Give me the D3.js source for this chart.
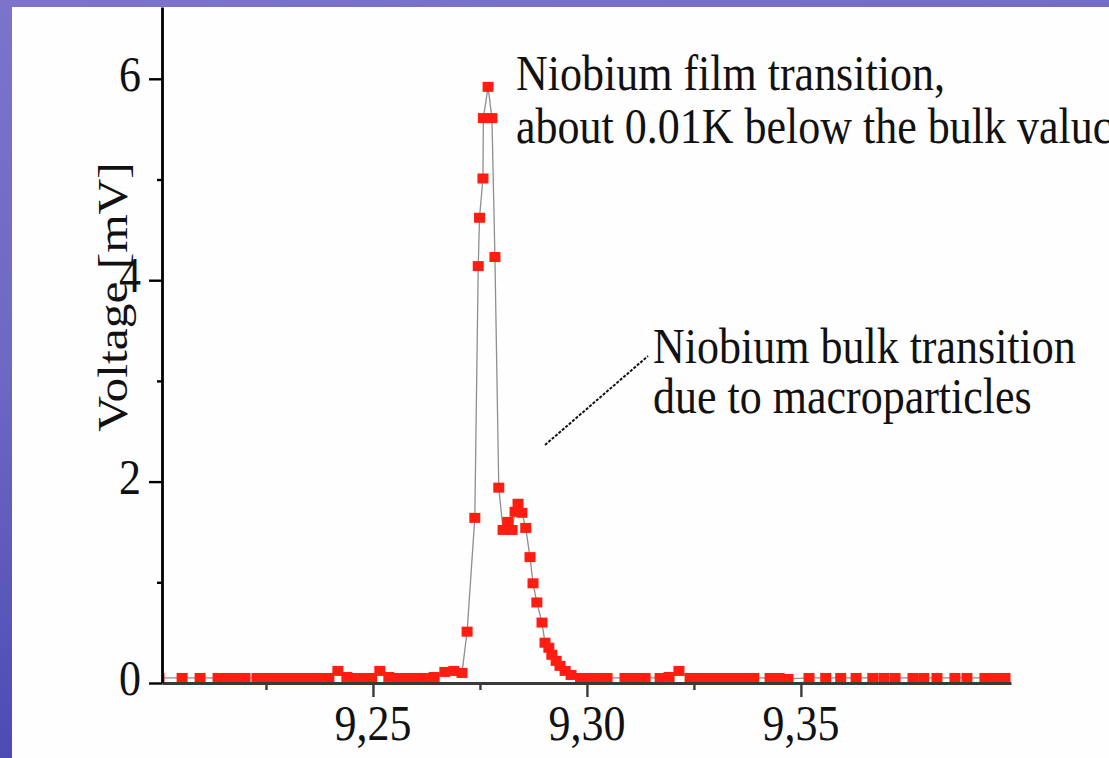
<!DOCTYPE html>
<html lang="en">
<head>
<meta charset="UTF-8">
<title>Niobium film transition</title>
<script src="https://d3js.org/d3.v7.min.js"></script>
<style>
    body { margin: 0; overflow: hidden; }
    svg { display: block; }
    .lbl { font-family: "Liberation Serif", "Times New Roman", serif; fill: #111; }
</style>
</head>
<body>
<svg id="chart" width="1109" height="758"></svg>
<script>
    // temperature [K] and voltage [mV], in sweep order
    const lowTempK = [9.2000, 9.2054, 9.2096, 9.2138, 9.2159, 9.2180, 9.2201, 9.2229, 9.2250, 9.2271,
        9.2292, 9.2313, 9.2334, 9.2355, 9.2376, 9.2397, 9.2418, 9.2439, 9.2460, 9.2481,
        9.2497, 9.2516, 9.2537, 9.2558, 9.2579, 9.2600, 9.2621, 9.2643, 9.2668, 9.2689, 9.2708];
    const lowVolt = [0.05, 0.05, 0.05, 0.05, 0.05, 0.05, 0.05, 0.05, 0.05, 0.05,
        0.05, 0.05, 0.05, 0.05, 0.05, 0.05, 0.12, 0.06, 0.05, 0.05,
        0.05, 0.12, 0.06, 0.05, 0.05, 0.05, 0.05, 0.06, 0.11, 0.12, 0.10];

    const peakTempK = [9.2720, 9.2738, 9.2746, 9.2749, 9.2757, 9.2758, 9.2769, 9.2778, 9.2785, 9.2794,
        9.2804, 9.2815, 9.2825, 9.2832, 9.2839, 9.2848, 9.2857, 9.2867, 9.2874, 9.2883,
        9.2895, 9.2902, 9.2911, 9.2918, 9.2928, 9.2937, 9.2949, 9.2963];
    const peakVolt = [0.51, 1.64, 4.14, 4.62, 5.01, 5.61, 5.92, 5.61, 4.23, 1.94,
        1.52, 1.60, 1.52, 1.70, 1.78, 1.69, 1.54, 1.25, 0.99, 0.80,
        0.60, 0.40, 0.35, 0.28, 0.22, 0.17, 0.12, 0.08];

    const highTempK = [9.2985, 9.3007, 9.3028, 9.3047, 9.3089, 9.3112, 9.3136, 9.3171, 9.3192, 9.3215, 9.3241,
        9.3264, 9.3285, 9.3306, 9.3327, 9.3348, 9.3369, 9.3390, 9.3428, 9.3449, 9.3470,
        9.3519, 9.3558, 9.3593, 9.3629, 9.3668, 9.3694, 9.3720, 9.3762, 9.3787, 9.3818,
        9.3860, 9.3888, 9.3930, 9.3953, 9.3977];
    const highVolt = [0.05, 0.05, 0.05, 0.05, 0.05, 0.05, 0.05, 0.05, 0.06, 0.12, 0.05,
        0.05, 0.05, 0.05, 0.05, 0.05, 0.05, 0.05, 0.05, 0.05, 0.04,
        0.05, 0.05, 0.05, 0.05, 0.05, 0.05, 0.05, 0.05, 0.05, 0.05,
        0.05, 0.05, 0.05, 0.05, 0.05];

    const xTicks = [9.25, 9.30, 9.35];
    const xTickLabels = ["9,25", "9,30", "9,35"];
    const xMinorTicks = [9.225, 9.275, 9.325];
    const yTicks = [0, 2, 4, 6];
    const yMinorTicks = [1, 3, 5];

    const filmNote = ["Niobium film transition,", "about 0.01K below the bulk valuc"];
    const bulkNote = ["Niobium bulk transition", "due to macroparticles"];
    const yTitle = "Voltage [mV]";

    const tempK = lowTempK.concat(peakTempK, highTempK);
    const volt = lowVolt.concat(peakVolt, highVolt);
    const points = tempK.map((t, i) => ({ t: t, v: volt[i] }));

    const svg = d3.select("#chart");
    const width = 1109, height = 758;
    const stretch = 1.15; // the picture is a bit taller than wide

    // slide background
    const defs = svg.append("defs");
    const grad = defs.append("linearGradient").attr("id", "bg")
        .attr("x1", 0).attr("y1", 0).attr("x2", 0.3).attr("y2", 1);
    grad.append("stop").attr("offset", "0%").attr("stop-color", "#7c74cb");
    grad.append("stop").attr("offset", "45%").attr("stop-color", "#6d68c3");
    grad.append("stop").attr("offset", "100%").attr("stop-color", "#4a45b1");
    svg.append("rect").attr("width", width).attr("height", height).attr("fill", "url(#bg)");
    svg.append("rect").attr("x", 12).attr("y", 7)
        .attr("width", width - 12).attr("height", height - 7).attr("fill", "#fefefe");

    const x = d3.scaleLinear().domain([9.2007, 9.3991]).range([162, 1011]);
    const y = d3.scaleLinear().domain([0, 6.713]).range([683, 7]);

    defs.append("clipPath").attr("id", "plot")
        .append("rect").attr("x", 162).attr("y", 0).attr("width", 850).attr("height", 682);

    // connecting line then the square symbols
    const line = d3.line().x(d => x(d.t)).y(d => y(d.v));
    const plot = svg.append("g").attr("clip-path", "url(#plot)");
    plot.append("path").datum(points)
        .attr("d", line)
        .attr("fill", "none")
        .attr("stroke", "#444")
        .attr("stroke-opacity", 0.6)
        .attr("stroke-width", 1.3);

    const sqW = 11, sqH = 10;
    plot.selectAll("rect.pt")
        .data(points)
        .enter().append("rect")
        .attr("class", "pt")
        .attr("x", d => x(d.t) - sqW / 2)
        .attr("y", d => y(d.v) - sqH / 2)
        .attr("width", sqW)
        .attr("height", sqH)
        .attr("fill", "#ff1d12");

    // x axis
    const xAxis = svg.append("g").attr("transform", "translate(0," + y(0) + ")")
        .call(d3.axisBottom(x).tickValues(xTicks).tickSize(14).tickSizeOuter(0).tickFormat(""));
    const xMinor = svg.append("g").attr("transform", "translate(0," + y(0) + ")")
        .call(d3.axisBottom(x).tickValues(xMinorTicks).tickSize(7).tickSizeOuter(0).tickFormat(""));
    xMinor.select(".domain").remove();
    xAxis.selectAll("path, line").attr("stroke", "#3a3a3a").attr("stroke-width", 2.8);
    xMinor.selectAll("line").attr("stroke", "#3a3a3a").attr("stroke-width", 2.4);

    // y axis
    const yAxis = svg.append("g").attr("transform", "translate(" + x(9.2007) + ",0)")
        .call(d3.axisLeft(y).tickValues(yTicks).tickSize(13).tickSizeOuter(0).tickFormat(""));
    const yMinor = svg.append("g").attr("transform", "translate(" + x(9.2007) + ",0)")
        .call(d3.axisLeft(y).tickValues(yMinorTicks).tickSize(5).tickSizeOuter(0).tickFormat(""));
    yMinor.select(".domain").remove();
    yAxis.selectAll("path, line").attr("stroke", "#000").attr("stroke-width", 2.8);
    yMinor.selectAll("line").attr("stroke", "#000").attr("stroke-width", 2.4);
    svg.selectAll(".tick line").attr("stroke-width", 2.4);

    // text helper: serif, stretched vertically like the source picture
    function label(px, py, str, anchor, size, rot) {
        return svg.append("text")
            .attr("class", "lbl")
            .attr("transform", "translate(" + px + "," + py + ") scale(1," + stretch + ")" + (rot ? " rotate(" + rot + ")" : ""))
            .attr("text-anchor", anchor)
            .attr("font-size", size)
            .text(str);
    }

    xTicks.forEach((t, i) => label(x(t), 740, xTickLabels[i], "middle", 44));
    yTicks.forEach(v => label(141, y(v) + 12, String(v), "end", 44));

    label(127, 297, yTitle, "middle", 43, -90);

    filmNote.forEach((s, i) => label(516, 90 + i * 53, s, "start", 44));
    bulkNote.forEach((s, i) => label(653, 363 + i * 50, s, "start", 44));

    // leader line to the bulk bump
    svg.append("line")
        .attr("x1", 545).attr("y1", 445)
        .attr("x2", 648).attr("y2", 356)
        .attr("stroke", "#111")
        .attr("stroke-width", 2)
        .attr("stroke-dasharray", "3,1.5");
</script>
</body>
</html>
